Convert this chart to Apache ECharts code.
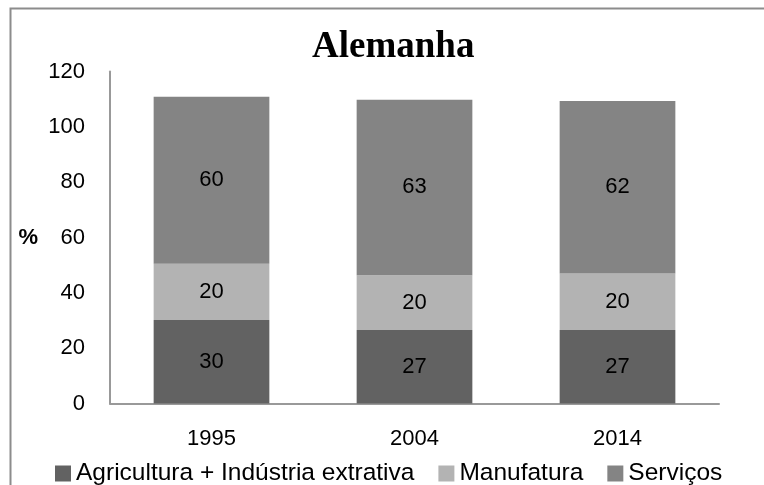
<!DOCTYPE html>
<html>
<head>
<meta charset="utf-8">
<script src="https://cdn.jsdelivr.net/npm/echarts@6/dist/echarts.min.js"></script>
<style>
  html, body { margin: 0; padding: 0; background: #fff; }
  #chart { width: 764px; height: 485px; }
</style>
</head>
<body>
<div id="chart"></div>
<script>
var anos = ['1995', '2004', '2014'];
var agricultura = [30.2, 26.6, 26.6];
var manufatura = [20.3, 19.8, 20.4];
var servicos = [60.4, 63.4, 62.3];
var yTicks = [0, 20, 40, 60, 80, 100, 120];

var myChart = echarts.init(document.getElementById('chart'));
var fonte = 'Liberation Sans, Arial, sans-serif';

function rotulo() {
    return {
        show: true,
        position: 'inside',
        color: '#000',
        fontSize: 22,
        fontFamily: fonte,
        formatter: function (p) {
            return Math.round(p.value);
        }
    };
}

option = {
    animation: false,
    backgroundColor: '#fff',
    graphic: [{
        type: 'rect',
        left: 8,
        top: 6,
        shape: { width: 800, height: 520 },
        style: { fill: 'none', stroke: '#8c8c8c', lineWidth: 2 },
        silent: true
    }],
    title: {
        text: 'Alemanha',
        left: 307,
        top: 24,
        textStyle: {
            fontFamily: 'Liberation Serif, Times New Roman, serif',
            fontWeight: 'bold',
            fontSize: 37,
            color: '#000'
        }
    },
    legend: {
        top: 456,
        left: 50,
        itemWidth: 16,
        itemHeight: 16,
        itemGap: 24,
        icon: 'rect',
        textStyle: { fontSize: 24.5, fontFamily: fonte, color: '#000', padding: [0, 0, 0, 0] },
        data: ['Agricultura + Indústria extrativa', 'Manufatura', 'Serviços']
    },
    grid: {
        left: 110,
        right: 45,
        top: 71.5,
        bottom: 81.5
    },
    xAxis: {
        type: 'category',
        data: anos,
        axisLine: { lineStyle: { color: '#999', width: 2 } },
        axisTick: { show: false },
        axisLabel: { fontSize: 22, fontFamily: fonte, color: '#000', margin: 24 }
    },
    yAxis: {
        type: 'value',
        min: yTicks[0],
        max: yTicks[yTicks.length - 1],
        interval: 20,
        name: '%',
        nameLocation: 'middle',
        nameRotate: 0,
        nameGap: 72,
        nameTextStyle: { fontSize: 22, fontWeight: 'bold', fontFamily: fonte, color: '#000' },
        axisLine: { show: true, lineStyle: { color: '#999', width: 2 } },
        axisTick: { show: false },
        splitLine: { show: false },
        axisLabel: { fontSize: 22, fontFamily: fonte, color: '#000', margin: 25 }
    },
    series: [{
        name: 'Agricultura + Indústria extrativa',
        type: 'bar',
        stack: 'total',
        barWidth: '57%',
        itemStyle: { color: '#626262' },
        label: rotulo(),
        data: agricultura
    }, {
        name: 'Manufatura',
        type: 'bar',
        stack: 'total',
        itemStyle: { color: '#b3b3b3' },
        label: rotulo(),
        data: manufatura
    }, {
        name: 'Serviços',
        type: 'bar',
        stack: 'total',
        itemStyle: { color: '#848484' },
        label: rotulo(),
        data: servicos
    }]
};
myChart.setOption(option);
</script>
</body>
</html>
